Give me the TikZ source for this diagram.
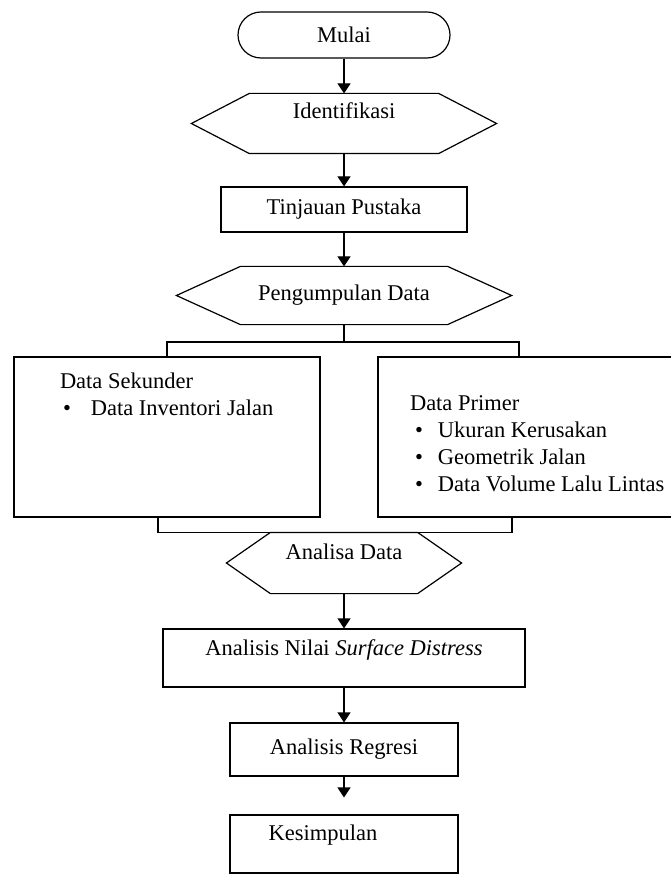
\documentclass[tikz,border=0pt]{standalone}
\usepackage{fontspec}
\setmainfont{Liberation Serif}
\usetikzlibrary{arrows.meta, positioning}

\newcommand{\hexline}[2]{%
  \draw (#1.north west) -- (#1.north east) -- ([xshift=#2]#1.east)
    -- (#1.south east) -- (#1.south west) -- ([xshift=-#2]#1.west) -- cycle;}

\begin{document}
\begin{tikzpicture} [x=1pt, y=-1pt, node distance = 88pt, on grid,
  font=\fontsize{22.5}{27}\selectfont, line width=1.2pt,
  >={Triangle[length=10pt,width=13pt]},
  term/.style={draw, rectangle, rounded corners=23pt, minimum width=212pt, minimum height=46pt, inner sep=0pt},
  hexa/.style={rectangle, inner sep=0pt},
  proc/.style={draw, rectangle, inner sep=0pt},
  info/.style={align=left, anchor=north west, inner sep=0pt}]
\useasboundingbox (0,0) rectangle (670,874);

\node[term] (mulai) at (344,35) {Mulai};
\node[hexa, minimum width=188pt, minimum height=59pt, label={[name=identifikasi_txt, yshift=13pt]center:Identifikasi}] (identifikasi) [below = 88.5pt of mulai] {};
\node[proc, minimum width=246pt, minimum height=45pt] (tinjauan) [below = 86pt of identifikasi] {Tinjauan Pustaka};
\node[hexa, minimum width=206pt, minimum height=57pt] (pengumpulan) [below = 86pt of tinjauan] {Pengumpulan Data};
\coordinate[below = 46.5pt of pengumpulan] (split);
\node[proc, minimum width=306pt, minimum height=160pt] (sekunder) [below left = 141.5pt and 177pt of pengumpulan] {};
\node[proc, minimum width=322pt, minimum height=160pt] (primer) [below right = 141.5pt and 195pt of pengumpulan] {};
\node[hexa, minimum width=146pt, minimum height=60pt, label={[name=analisa_txt, yshift=11pt]center:Analisa Data}] (analisa) [below = 267.5pt of pengumpulan] {};
\node[proc, minimum width=362pt, minimum height=58pt, label={[name=surface_txt, yshift=8pt]center:Analisis Nilai \textit{Surface Distress}}] (surface) [below = 95pt of analisa] {};
\node[proc, minimum width=228pt, minimum height=53pt] (regresi) [below = 91.5pt of surface] {Analisis Regresi};
\node[proc, minimum width=228pt, minimum height=58pt, label={[name=kesimpulan_txt, xshift=-21pt, yshift=9pt]center:Kesimpulan}] (kesimpulan) [below = 94.5pt of regresi] {};

% isi kotak data
\node[info] (sekunder_txt) at ([xshift=46pt, yshift=-16pt]sekunder.north west)
  {Data Sekunder\\ \hspace*{3pt}\textbullet\hspace{20pt}Data Inventori Jalan};
\node[info] (primer_txt) at ([xshift=32pt, yshift=-39pt]primer.north west)
  {Data Primer\\ \hspace*{5pt}\textbullet\hspace{15pt}Ukuran Kerusakan\\
   \hspace*{5pt}\textbullet\hspace{15pt}Geometrik Jalan\\
   \hspace*{5pt}\textbullet\hspace{15pt}Data Volume Lalu Lintas};

\hexline{identifikasi}{58pt}
\hexline{pengumpulan}{64pt}
\hexline{analisa}{44pt}

\path[->] (mulai) edge (identifikasi);
\path[->] (identifikasi) edge (tinjauan);
\path[->] (tinjauan) edge (pengumpulan);
\draw (pengumpulan) -- (split);
\draw (sekunder.north) |- (split) -| ([xshift=-20pt]primer.north);
\draw ([xshift=-9pt]sekunder.south) |- (analisa.north) -| ([xshift=-27pt]primer.south);
\path[->] (analisa) edge (surface);
\path[->] (surface) edge (regresi);
\path[->] (regresi) edge [shorten >=17pt] (kesimpulan);

\end{tikzpicture}
\end{document}
